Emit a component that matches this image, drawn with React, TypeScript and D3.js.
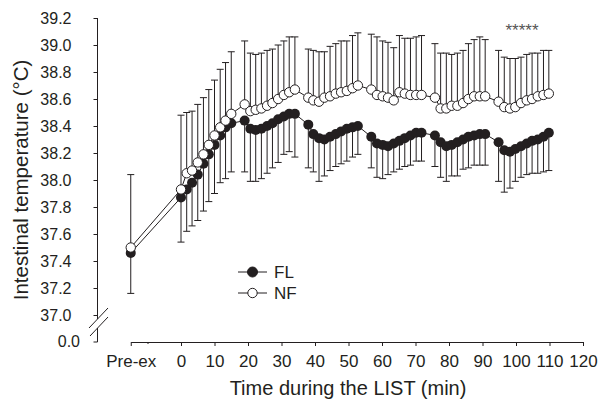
import React, { useEffect, useRef } from "react";
import * as d3 from "d3";

// Time (min) of each sample; -15 stands for the "Pre-ex" sample
const times = [
  -15,
  0, 1.7, 3.3, 5, 6.7, 8.3, 10, 11.7, 13.3, 15,
  19,
  20.7, 22.3, 24, 25.7, 27.3, 29, 30.7, 32.3, 34,
  38,
  39.5, 41.2, 42.8, 44.5, 46.2, 47.8, 49.5, 51.2, 52.8,
  56.8,
  58.5, 60.2, 61.8, 63.5, 65.2, 66.8, 68.5, 70.2, 71.8,
  75.8,
  77.5, 79.2, 80.8, 82.5, 84.2, 85.8, 87.5, 89.2, 90.8,
  94.8,
  96.5, 98.2, 99.8, 101.5, 103.2, 104.8, 106.5, 108.2, 109.8,
];

const nfMean = [
  37.5,
  37.93, 38.05, 38.07, 38.13, 38.19, 38.26, 38.33, 38.39, 38.44, 38.49,
  38.56,
  38.51, 38.52, 38.53, 38.55, 38.57, 38.6, 38.63, 38.65, 38.67,
  38.61,
  38.59, 38.58, 38.61, 38.62, 38.64, 38.65, 38.66, 38.68, 38.7,
  38.67,
  38.63, 38.62, 38.61, 38.59, 38.65, 38.64, 38.63, 38.63, 38.63,
  38.61,
  38.53, 38.53, 38.55, 38.55, 38.57, 38.6, 38.62, 38.62, 38.62,
  38.58,
  38.54, 38.53, 38.54, 38.57, 38.59, 38.6, 38.62, 38.63, 38.64,
];

const nfSd = [
  0.54,
  0.55, 0.45, 0.44, 0.43, 0.42, 0.41, 0.41, 0.43, 0.43, 0.46,
  0.47,
  0.43, 0.41, 0.41, 0.41, 0.4, 0.4, 0.4, 0.41, 0.39,
  0.36,
  0.37, 0.37, 0.34, 0.37, 0.37, 0.38, 0.37, 0.39, 0.39,
  0.41,
  0.43, 0.41, 0.41, 0.39, 0.42, 0.41, 0.42, 0.43, 0.44,
  0.4,
  0.41, 0.41, 0.38, 0.39, 0.39, 0.41, 0.42, 0.44, 0.42,
  0.38,
  0.37, 0.37, 0.36, 0.34, 0.34, 0.34, 0.32, 0.33, 0.32,
];

const flMean = [
  37.46,
  37.87, 37.93, 37.98, 38.04, 38.12, 38.19, 38.26, 38.33, 38.39, 38.42,
  38.44,
  38.38, 38.37, 38.38, 38.4, 38.42, 38.45, 38.47, 38.49, 38.49,
  38.41,
  38.34, 38.31, 38.3, 38.32, 38.34, 38.36, 38.38, 38.39, 38.4,
  38.32,
  38.27, 38.26, 38.25, 38.27, 38.29, 38.31, 38.33, 38.35, 38.35,
  38.33,
  38.28, 38.25, 38.26, 38.28, 38.3, 38.32, 38.33, 38.34, 38.34,
  38.28,
  38.22, 38.21, 38.23, 38.25, 38.27, 38.29, 38.3, 38.32, 38.35,
];

const flSd = [
  0.3,
  0.33, 0.31, 0.32, 0.34, 0.35, 0.35, 0.36, 0.35, 0.38, 0.36,
  0.38,
  0.39, 0.38, 0.37, 0.35, 0.33, 0.32, 0.28, 0.28, 0.32,
  0.32,
  0.28, 0.32, 0.27, 0.25, 0.24, 0.24, 0.24, 0.22, 0.21,
  0.23,
  0.25, 0.25, 0.21, 0.21, 0.21, 0.21, 0.22, 0.21, 0.21,
  0.23,
  0.26, 0.26, 0.23, 0.25, 0.22, 0.23, 0.22, 0.23, 0.23,
  0.29,
  0.31, 0.27, 0.24, 0.23, 0.23, 0.24, 0.25, 0.26, 0.28,
];

const xTicks = [-15, -10, 0, 10, 20, 30, 40, 50, 60, 70, 80, 90, 100, 110, 120];
const yTicks = [37.0, 37.2, 37.4, 37.6, 37.8, 38.0, 38.2, 38.4, 38.6, 38.8, 39.0, 39.2];
const seriesNames = ["FL", "NF"];
const starText = "*****";

const INK = "#231f20";
const FONT = "'Liberation Sans', Arial, Helvetica, sans-serif";

export default function App() {
  const ref = useRef<SVGSVGElement | null>(null);

  useEffect(() => {
    const svg = d3.select(ref.current);
    svg.selectAll("*").remove();

    const x = d3.scaleLinear().domain([-15, 120]).range([130.75, 583]);
    const y = d3.scaleLinear().domain([37.0, 39.2]).range([315, 18]);
    const axisX = 97.5;

    // ---- Y axis ----
    const gy = svg.append("g").attr("transform", `translate(${axisX},0)`);
    gy.call(
      d3
        .axisLeft(y)
        .tickValues(yTicks)
        .tickFormat(d3.format(".1f"))
        .tickSize(4)
        .tickSizeOuter(0)
        .tickPadding(22)
    );
    gy.select(".domain").remove();
    gy.selectAll("line").attr("stroke", INK);
    gy.selectAll("text")
      .attr("fill", INK)
      .style("font-family", FONT)
      .style("font-size", "16px");
    // axis segments with break
    svg
      .append("line")
      .attr("x1", axisX).attr("x2", axisX)
      .attr("y1", y(39.2)).attr("y2", 319)
      .attr("stroke", INK);
    svg
      .append("path")
      .attr("d", `M${axisX - 4},342H${axisX}V328`)
      .attr("fill", "none")
      .attr("stroke", INK);
    svg
      .append("text")
      .attr("x", 80)
      .attr("y", 342)
      .attr("dy", "0.32em")
      .attr("text-anchor", "end")
      .attr("fill", INK)
      .style("font-family", FONT)
      .style("font-size", "16px")
      .text("0.0");
    // break marks
    svg.append("line").attr("x1", 89).attr("y1", 328).attr("x2", 108).attr("y2", 308).attr("stroke", INK);
    svg.append("line").attr("x1", 90).attr("y1", 336).attr("x2", 108).attr("y2", 317).attr("stroke", INK);

    // ---- X axis ----
    const gx = svg.append("g").attr("transform", `translate(0,342)`);
    gx.call(
      d3
        .axisBottom(x)
        .tickValues(xTicks)
        .tickFormat((d: any) => (d === -15 ? "Pre-ex" : d === -10 ? "" : String(d)))
        .tickSize(4)
        .tickSizeOuter(0)
        .tickPadding(9)
    );
    gx.select(".domain").attr("stroke", INK);
    gx.selectAll("line").attr("stroke", INK);
    gx.selectAll(".tick")
      .filter((d: any) => d === -10)
      .select("line")
      .attr("y2", 2);
    gx.selectAll("text")
      .attr("fill", INK)
      .style("font-family", FONT)
      .style("font-size", "17px");

    // axis titles
    svg
      .append("text")
      .attr("x", 348)
      .attr("y", 395)
      .attr("text-anchor", "middle")
      .attr("fill", INK)
      .style("font-family", FONT)
      .style("font-size", "20px")
      .text("Time during the LIST (min)");
    svg
      .append("text")
      .attr("transform", "translate(28,180) rotate(-90)")
      .attr("text-anchor", "middle")
      .attr("fill", INK)
      .style("font-family", FONT)
      .style("font-size", "20.5px")
      .text("Intestinal temperature (\u00B0C)");

    const idx = d3.range(times.length);
    const cap = 3.5;

    // ---- error bars ----
    const eb = svg.append("g").attr("stroke", INK).attr("stroke-width", 1).attr("fill", "none");
    eb.selectAll("path.nf")
      .data(idx)
      .join("path")
      .attr("class", "nf")
      .attr("d", (i: number) => {
        const cx = x(times[i]);
        const y0 = y(nfMean[i]);
        const y1 = y(nfMean[i] + nfSd[i]);
        return `M${cx},${y0}V${y1}M${cx - cap},${y1}H${cx + cap}`;
      });
    eb.selectAll("path.fl")
      .data(idx)
      .join("path")
      .attr("class", "fl")
      .attr("d", (i: number) => {
        const cx = x(times[i]);
        const y0 = y(flMean[i]);
        const y1 = y(flMean[i] - flSd[i]);
        return `M${cx},${y0}V${y1}M${cx - cap},${y1}H${cx + cap}`;
      });

    // ---- lines ----
    const lineGen = (vals: number[]) =>
      d3
        .line<number>()
        .x((i) => x(times[i]))
        .y((i) => y(vals[i]))(idx);
    svg.append("path").attr("d", lineGen(flMean)).attr("fill", "none").attr("stroke", INK).attr("stroke-width", 1);
    svg.append("path").attr("d", lineGen(nfMean)).attr("fill", "none").attr("stroke", INK).attr("stroke-width", 1);

    // ---- points ----
    svg
      .append("g")
      .selectAll("circle")
      .data(idx)
      .join("circle")
      .attr("cx", (i: number) => x(times[i]))
      .attr("cy", (i: number) => y(flMean[i]))
      .attr("r", 5)
      .attr("fill", INK);
    svg
      .append("g")
      .selectAll("circle")
      .data(idx)
      .join("circle")
      .attr("cx", (i: number) => x(times[i]))
      .attr("cy", (i: number) => y(nfMean[i]))
      .attr("r", 4.7)
      .attr("fill", "#fff")
      .attr("stroke", INK)
      .attr("stroke-width", 1);

    // ---- significance stars ----
    svg
      .append("text")
      .attr("x", 522)
      .attr("y", 36)
      .attr("text-anchor", "middle")
      .attr("fill", "#555")
      .style("font-family", FONT)
      .style("font-size", "17px")
      .text(starText);

    // ---- legend ----
    const leg = svg.append("g");
    seriesNames.forEach((name, k) => {
      const ly = 272 + k * 21;
      leg.append("line").attr("x1", 238).attr("x2", 267).attr("y1", ly).attr("y2", ly).attr("stroke", INK);
      leg
        .append("circle")
        .attr("cx", 252.5)
        .attr("cy", ly)
        .attr("r", k === 0 ? 5 : 4.7)
        .attr("fill", k === 0 ? INK : "#fff")
        .attr("stroke", INK);
      leg
        .append("text")
        .attr("x", 274)
        .attr("y", ly)
        .attr("dy", "0.36em")
        .attr("fill", INK)
        .style("font-family", FONT)
        .style("font-size", "17px")
        .text(name);
    });
  }, []);

  return (
    <svg
      ref={ref}
      width={600}
      height={404}
      style={{ position: "absolute", left: 0, top: 0, background: "#fff" }}
    />
  );
}
